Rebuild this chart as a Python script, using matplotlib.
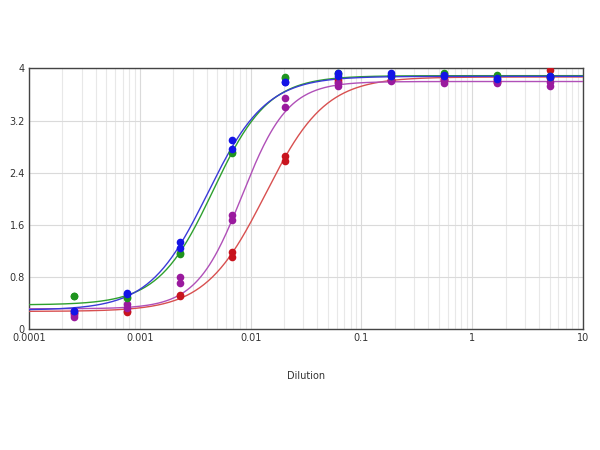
import numpy as np
import matplotlib.pyplot as plt
from matplotlib.ticker import FixedLocator, NullFormatter

# 3-fold dilution series, highest first
dilution = [5.0, 1.667, 0.5556, 0.1852, 0.0617, 0.0206, 0.00686, 0.00229, 0.000762, 0.000254]

# two replicate readings per dilution
green_y = [[3.88, 3.87], [3.90, 3.89], [3.93, 3.92], [3.90, 3.89], [3.93, 3.92],
           [3.87, 3.86], [2.70, 2.72], [1.15, 1.17], [0.47, 0.49], [0.51, 0.51]]
blue_y = [[3.89, 3.87], [3.85, 3.84], [3.90, 3.88], [3.93, 3.88], [3.93, 3.88],
          [3.79, 3.80], [2.90, 2.76], [1.33, 1.25], [0.55, 0.53], [0.28, 0.27]]
purple_y = [[3.80, 3.73], [3.78, 3.79], [3.82, 3.78], [3.82, 3.81], [3.78, 3.73],
            [3.54, 3.41], [1.75, 1.67], [0.80, 0.71], [0.38, 0.33], [0.21, 0.19]]
red_y = [[3.98, 3.85], [3.82, 3.80], [3.84, 3.82], [3.83, 3.82], [3.82, 3.80],
         [2.65, 2.58], [1.18, 1.10], [0.52, 0.51], [0.27, 0.26], [0.25, 0.24]]

# 4-parameter logistic fits: bottom, top, EC50, hill slope
green_fit = [0.37, 3.89, 0.0046, 1.75]
blue_fit = [0.29, 3.88, 0.0041, 1.65]
purple_fit = [0.31, 3.80, 0.0084, 2.1]
red_fit = [0.27, 3.87, 0.0136, 1.6]

series = [
    (red_y, red_fit, '#c8141e', '#d85050'),
    (purple_y, purple_fit, '#9a1a9e', '#b050b8'),
    (green_y, green_fit, '#1f941f', '#2ea02e'),
    (blue_y, blue_fit, '#1414e6', '#3a3ad8'),
]

fig = plt.figure(figsize=(6, 4.5), dpi=100)
ax = fig.add_axes([0.0483, 0.2689, 0.9234, 0.5789])

xs = np.logspace(-4, 1, 400)
for ys, fit, mcol, lcol in series:
    bottom, top, ec50, hill = fit
    curve = bottom + (top - bottom) / (1 + (ec50 / xs) ** hill)
    ax.plot(xs, curve, color=lcol, linewidth=1.0, zorder=3)
for ys, fit, mcol, lcol in series:
    for rep in range(2):
        ax.plot(dilution, [v[rep] for v in ys], 'o', color=mcol,
                markersize=5.5, markeredgewidth=0, zorder=4)

ax.set_xscale('log')
ax.set_xlim(0.0001, 10)
ax.set_ylim(0, 4)
ax.set_xticks([0.0001, 0.001, 0.01, 0.1, 1, 10])
ax.set_xticklabels(['0.0001', '0.001', '0.01', '0.1', '1', '10'])
ax.xaxis.set_minor_locator(FixedLocator([m * 10.0 ** e for e in range(-4, 1) for m in range(2, 10)]))
ax.xaxis.set_minor_formatter(NullFormatter())
ax.set_yticks([0, 0.8, 1.6, 2.4, 3.2, 4])
ax.set_yticklabels(['0', '0.8', '1.6', '2.4', '3.2', '4'])

ax.grid(True, which='major', color='#dadada', linewidth=0.8)
ax.grid(True, which='minor', axis='x', color='#e8e8e8', linewidth=0.8)
ax.set_axisbelow(True)
ax.tick_params(which='both', length=0, labelsize=7, colors='#333333', pad=3)
for s in ax.spines.values():
    s.set_color('#444444')
    s.set_linewidth(1.0)

ax.set_xlabel('Dilution', fontsize=7, color='#333333', labelpad=20)

fig.savefig('out.png', dpi=100)
